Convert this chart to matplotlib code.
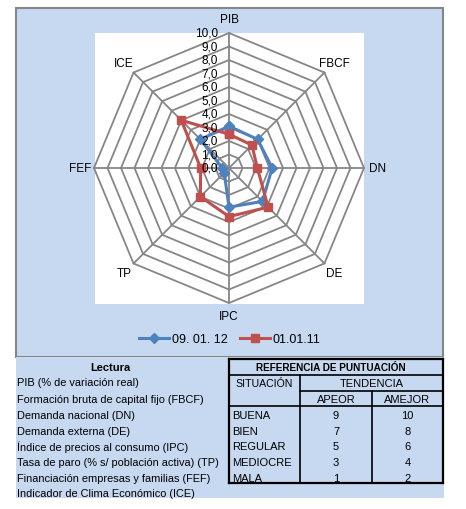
import numpy as np
import matplotlib.pyplot as plt
from matplotlib.patches import Rectangle
from matplotlib.lines import Line2D

# datos del gráfico radar
categorias = ['PIB', 'FBCF', 'DN', 'DE', 'IPC', 'TP', 'FEF', 'ICE']
serie_2012 = [3.1, 3.0, 3.2, 3.5, 2.9, 0.5, 0.5, 3.0]
serie_2011 = [2.5, 2.4, 2.1, 4.1, 3.6, 3.0, 2.1, 5.0]
nombres_series = ['09. 01. 12', '01.01.11']
marcas_radio = [0, 1, 2, 3, 4, 5, 6, 7, 8, 9, 10]

# datos de la tabla
lectura = ['PIB (% de variación real)',
           'Formación bruta de capital fijo (FBCF)',
           'Demanda nacional (DN)',
           'Demanda externa (DE)',
           'Índice de precios al consumo (IPC)',
           'Tasa de paro (% s/ población activa) (TP)',
           'Financiación empresas y familias (FEF)',
           'Indicador de Clima Económico (ICE)']
situacion = ['BUENA', 'BIEN', 'REGULAR', 'MEDIOCRE', 'MALA']
a_peor = [9, 7, 5, 3, 1]
a_mejor = [10, 8, 6, 4, 2]

AZUL = '#4F81BD'
ROJO = '#C0504D'
FONDO = '#C6D9F1'
GRIS = '#868686'

W, H = 466, 510
fig = plt.figure(figsize=(W / 100, H / 100), dpi=100)
fig.patch.set_facecolor('white')

def fx(px):
    return px / W

def fy(py):
    return 1 - py / H

def rect(x0, y0, x1, y1, **kw):
    fig.add_artist(Rectangle((fx(x0), fy(y1)), fx(x1) - fx(x0), fy(y0) - fy(y1),
                             transform=fig.transFigure, **kw))

def linea(x0, y0, x1, y1, lw=1.2):
    fig.add_artist(Line2D([fx(x0), fx(x1)], [fy(y0), fy(y1)], color='black',
                          lw=lw, transform=fig.transFigure, solid_capstyle='projecting'))

# área del gráfico y área de la tabla
rect(16, 9, 443, 358, facecolor=FONDO, edgecolor=GRIS, lw=1.5, zorder=0)
rect(16, 358, 444, 499, facecolor=FONDO, edgecolor='none', zorder=0)
rect(95, 34, 364, 305, facecolor='white', edgecolor='none', zorder=0)

fuente = ['Liberation Sans Narrow', 'Liberation Sans', 'DejaVu Sans']

# radar
cx, cy, R = 229, 169, 135
ax = fig.add_axes([fx(cx - R), fy(cy + R), 2 * R / W, 2 * R / H], projection='polar')
ax.set_theta_zero_location('N')
ax.set_theta_direction(-1)
ax.set_ylim(0, 10)
ax.grid(False)
ax.set_xticks([])
ax.set_yticks([])
ax.spines['polar'].set_visible(False)
ax.patch.set_visible(False)

n = len(categorias)
ang = np.arange(n) * 2 * np.pi / n
ang_c = np.append(ang, ang[0])

for r in marcas_radio[1:]:
    ax.plot(ang_c, [r] * (n + 1), color=GRIS, lw=1.3, zorder=1, clip_on=False)
for a in ang:
    ax.plot([a, a], [0, 10], color=GRIS, lw=1.3, zorder=1, clip_on=False)

for r in marcas_radio:
    ax.annotate(f'{r:.1f}'.replace('.', ','), xy=(0, r), xytext=(-11, 0),
                textcoords='offset pixels', ha='right', va='center',
                fontsize=8.5, family=fuente, zorder=5)

for a, c in zip(ang, categorias):
    ax.text(a, 11.0, c, ha='center', va='center', fontsize=8.5, family=fuente,
            clip_on=False)

l1, = ax.plot(ang_c, serie_2012 + serie_2012[:1], color=AZUL,
              lw=2.2, marker='D', markersize=5, zorder=3, clip_on=False)
l2, = ax.plot(ang_c, serie_2011 + serie_2011[:1], color=ROJO,
              lw=2.2, marker='s', markersize=6, zorder=4, clip_on=False)

fig.legend([l1, l2], nombres_series, loc='center', bbox_to_anchor=(fx(230), fy(340)),
           ncol=2, frameon=False, handlelength=2.4, columnspacing=1.0,
           handletextpad=0.2, prop={'family': fuente, 'size': 9})

# tabla de lectura
filas_y = [383, 400, 416, 432, 447, 463, 479, 494]
fs = 8
fig.text(fx(110), fy(368), 'Lectura', ha='center', va='center', fontsize=8,
         fontweight='bold', family='Liberation Sans')
for y, t in zip(filas_y, lectura):
    fig.text(fx(17), fy(y), t, ha='left', va='center', fontsize=7.9,
             family='Liberation Sans')

# referencia de puntuación
fig.text(fx(331), fy(368), 'REFERENCIA DE PUNTUACIÓN', ha='center', va='center',
         fontsize=7.2, fontweight='bold', family='Liberation Sans')
fig.text(fx(264.5), fy(384), 'SITUACIÓN', ha='center', va='center', fontsize=7.6,
         family='Liberation Sans')
fig.text(fx(371.5), fy(384), 'TENDENCIA', ha='center', va='center', fontsize=fs,
         family='Liberation Sans')
fig.text(fx(336), fy(400), 'APEOR', ha='center', va='center', fontsize=fs,
         family='Liberation Sans')
fig.text(fx(407.5), fy(400), 'AMEJOR', ha='center', va='center', fontsize=fs,
         family='Liberation Sans')
for y, s, p, m in zip(filas_y[2:], situacion, a_peor, a_mejor):
    fig.text(fx(232), fy(y), s, ha='left', va='center', fontsize=fs,
             family='Liberation Sans')
    fig.text(fx(336), fy(y), str(p), ha='center', va='center', fontsize=fs,
             family='Liberation Sans')
    fig.text(fx(407.5), fy(y), str(m), ha='center', va='center', fontsize=fs,
             family='Liberation Sans')

# bordes de la tabla
linea(229, 360, 443, 360, 1.6)
linea(229, 484, 443, 484, 1.6)
linea(229, 360, 229, 484, 1.6)
linea(443, 360, 443, 484, 1.6)
linea(229, 376, 443, 376)
linea(300, 392, 443, 392)
linea(229, 407, 443, 407)
linea(300, 376, 300, 484)
linea(372, 392, 372, 484)

plt.savefig('out.png', dpi=100)
